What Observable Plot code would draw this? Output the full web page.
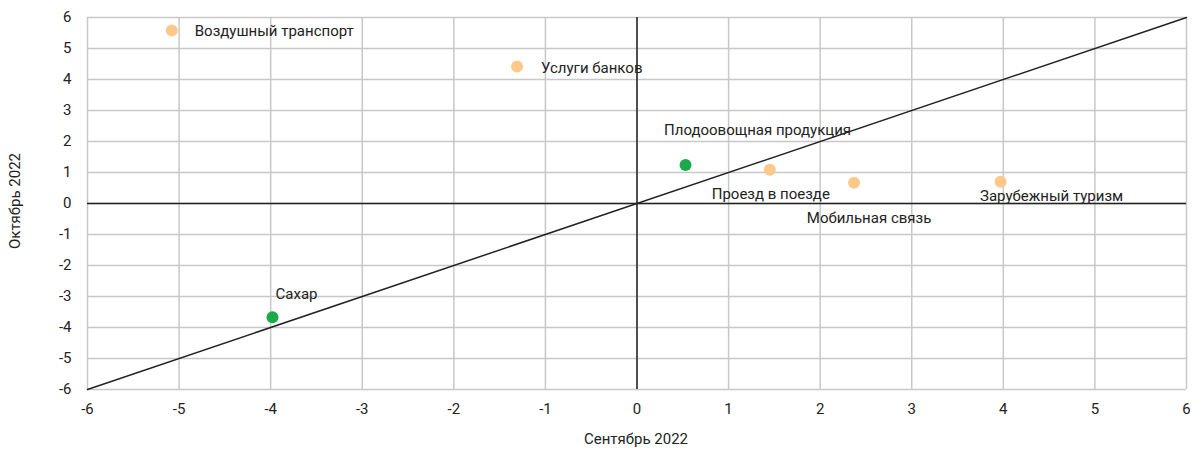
<!DOCTYPE html>
<html><head><meta charset="utf-8">
<script src="https://cdn.jsdelivr.net/npm/d3@7"></script>
<script src="https://cdn.jsdelivr.net/npm/@observablehq/plot@0.6"></script>
<style>
body{margin:0;background:#fff;}
#chart svg{display:block;}
</style>
</head><body><div id="chart"></div>
<script>
const names = ["Воздушный транспорт","Услуги банков","Плодоовощная продукция","Проезд в поезде","Мобильная связь","Зарубежный туризм","Сахар"];
const sep2022 = [-5.08,-1.31,0.53,1.45,2.37,3.97,-3.98];
const oct2022 = [5.58,4.42,1.24,1.09,0.67,0.70,-3.67];
const group = ["orange","orange","green","orange","orange","orange","green"];
const ticks = [-6,-5,-4,-3,-2,-1,0,1,2,3,4,5,6];
const diag = [-6,6];

// label placement (styling)
const labelStyle = {
  "Воздушный транспорт": {dx:23, dy:1, anchor:"start"},
  "Услуги банков": {dx:24, dy:2, anchor:"start"},
  "Плодоовощная продукция": {dx:72, dy:-35, anchor:"middle"},
  "Проезд в поезде": {dx:1, dy:24, anchor:"middle"},
  "Мобильная связь": {dx:15, dy:35, anchor:"middle"},
  "Зарубежный туризм": {dx:51, dy:14, anchor:"middle"},
  "Сахар": {dx:24, dy:-23, anchor:"middle"}
};
const colors = {orange:"#fdc98a", green:"#1aaa4a"};

const data = names.map((n,i)=>({name:n, x:sep2022[i], y:oct2022[i], g:group[i]}));
const font = "Roboto, sans-serif";

const textMarks = data.map(d => Plot.text([d], {x:"x", y:"y", text:"name",
  dx:labelStyle[d.name].dx, dy:labelStyle[d.name].dy, textAnchor:labelStyle[d.name].anchor,
  fontSize:15, fill:"#222"}));

const chart = Plot.plot({
  width:1193, height:450,
  marginLeft:87, marginRight:7, marginTop:17, marginBottom:61,
  style:{fontFamily:font, fontSize:"15px", color:"#222", background:"#fff"},
  x:{domain:[-6,6], ticks:ticks, label:null},
  y:{domain:[-6,6], ticks:ticks, label:null},
  marks:[
    Plot.gridX(ticks, {stroke:"#c8c8c8", strokeOpacity:1, strokeWidth:1.5}),
    Plot.gridY(ticks, {stroke:"#c8c8c8", strokeOpacity:1, strokeWidth:1.5}),
    Plot.ruleX([0], {stroke:"#222", strokeWidth:1.5}),
    Plot.ruleY([0], {stroke:"#222", strokeWidth:1.5}),
    Plot.line(diag.map(v=>({x:v,y:v})), {x:"x", y:"y", stroke:"#222", strokeWidth:1.5}),
    Plot.axisX(ticks, {tickSize:0, tickPadding:14, fontSize:15, tickFormat:d=>String(d).replace("−","-")}),
    Plot.axisY(ticks, {tickSize:0, tickPadding:16, fontSize:15, tickFormat:d=>String(d).replace("−","-")}),
    Plot.dot(data, {x:"x", y:"y", r:6, fill:d=>colors[d.g], stroke:"none"}),
    ...textMarks
  ]
});
document.getElementById("chart").appendChild(chart);
const svg = d3.select(chart);
svg.append("text").attr("x",636).attr("y",444).attr("text-anchor","middle")
  .attr("font-size",15).attr("fill","#222").attr("font-family",font).text("Сентябрь 2022");
svg.append("text").attr("transform","translate(20,201) rotate(-90)").attr("text-anchor","middle")
  .attr("font-size",15).attr("fill","#222").attr("font-family",font).text("Октябрь 2022");
</script>
</body></html>
